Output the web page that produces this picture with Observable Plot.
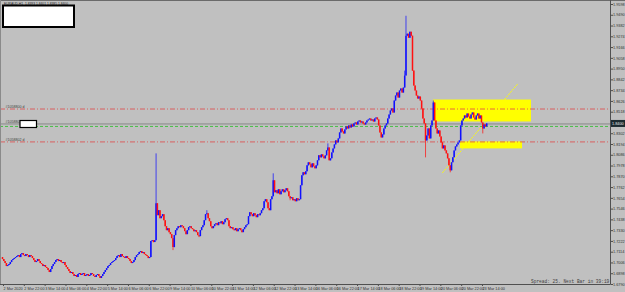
<!DOCTYPE html>
<html><head><meta charset="utf-8">
<script src="https://cdn.jsdelivr.net/npm/d3@7"></script>
<script src="https://cdn.jsdelivr.net/npm/@observablehq/plot@0.6"></script>
<style>
html,body{margin:0;padding:0;background:#c0c0c0;overflow:hidden}
#chart{position:relative;width:625px;height:292px}
svg{display:block}
</style></head><body><div id="chart"></div>
<script>
// EURAUD H1 closes, bar 0 = 2 Mar 2020 06:00 ... bar 372 = 23 Mar 18:00
const closes = [
1.704,1.702,1.700,1.697,1.698,
1.699,1.701,1.703,1.704,1.705,1.706,
1.707,1.708,1.706,1.709,1.710,1.708,1.707,1.709,1.708,1.706,1.708,1.707,1.705,
1.703,1.701,1.702,1.704,1.702,1.700,1.699,1.697,1.698,1.696,
1.695,1.693,1.691,1.694,
1.697,1.699,1.701,1.703,
1.704,1.702,1.703,1.701,1.700,1.701,
1.698,1.696,1.694,1.692,1.690,1.691,1.689,
1.687,1.688,1.686,1.689,1.690,1.688,
1.689,1.690,1.687,1.688,1.689,1.687,1.688,1.690,1.689,1.687,1.686,1.688,1.689,1.687,1.685,
1.687,1.689,1.691,1.693,1.695,1.697,1.698,1.700,1.701,1.702,1.703,1.705,
1.707,1.708,1.706,1.709,1.707,
1.706,1.705,1.707,1.705,1.704,
1.702,1.700,1.701,1.703,
1.706,1.708,1.709,
1.711,1.712,1.710,1.711,
1.709,1.708,1.707,1.705,1.706,
1.722,1.723,1.721,1.723,
1.760,
1.748,1.753,1.745,
1.747,1.749,1.743,
1.737,1.733,1.735,
1.731,1.729,
1.725,1.716,1.728,1.733,
1.735,1.737,1.736,1.738,1.737,1.735,
1.732,1.729,1.733,
1.736,1.737,1.735,
1.734,1.732,1.733,1.731,
1.728,1.727,
1.733,1.736,1.738,
1.743,1.749,1.750,
1.745,1.742,
1.737,1.735,1.737,
1.739,1.740,1.738,
1.741,1.740,1.742,1.739,1.741,
1.744,1.745,1.743,
1.737,1.735,1.736,
1.734,1.733,1.735,1.732,1.734,
1.735,1.733,1.731,1.734,1.736,
1.738,1.739,
1.747,1.751,
1.749,1.747,1.750,1.748,1.746,1.749,1.748,1.750,
1.753,1.755,
1.762,1.764,1.761,
1.755,1.753,
1.764,1.767,
1.783,1.771,
1.773,1.770,1.774,1.769,
1.772,1.774,1.771,1.773,1.775,1.772,
1.767,1.765,1.766,
1.763,1.764,1.762,
1.765,1.763,1.764,
1.778,1.788,1.791,1.789,1.792,
1.798,1.801,1.799,
1.796,1.800,1.797,
1.795,1.798,1.803,
1.808,1.806,1.809,1.807,
1.805,1.808,1.813,1.816,
1.803,1.805,
1.811,1.815,1.819,1.823,1.821,1.825,1.831,1.835,
1.832,1.830,1.834,1.837,1.835,1.838,1.836,
1.839,1.837,1.840,1.841,1.839,1.842,1.843,1.841,
1.842,1.840,1.839,1.841,1.843,1.844,1.845,1.843,
1.844,1.842,1.845,1.846,1.844,
1.838,1.831,1.826,1.829,
1.835,1.838,1.840,
1.845,1.849,1.853,1.855,1.851,
1.863,1.868,1.871,1.866,
1.873,1.875,1.871,1.876,
1.888,1.928,
1.930,1.926,1.932,1.928,
1.893,1.878,1.873,
1.868,1.865,1.867,1.863,
1.855,1.845,1.840,
1.823,
1.828,1.835,1.825,1.838,1.843,
1.861,
1.843,1.835,1.830,1.833,1.827,
1.821,1.815,1.818,1.813,1.810,
1.805,1.798,1.793,1.801,1.806,
1.813,1.817,1.819,1.821,1.823,
1.838,1.843,
1.845,1.848,1.846,1.850,
1.847,1.845,1.849,1.851,1.846,1.844,1.848,1.850,1.845,
1.848,1.841,1.835,1.839,
1.837,1.840
];
const firstOpen = 1.706;
// notable wick extremes [bar, price]
const wickHighs = [[118,1.810],[208,1.790],[310,1.948],[331,1.863],[309,1.893],[250,1.820],[157,1.753]];
const wickLows = [[131,1.713],[325,1.806],[344,1.791],[369,1.830],[221,1.763],[151,1.726]];

const xTickBars = [0,16,32,48,64,80,96,112,128,144,160,176,192,208,224,240,256,272,288,304,320,336,352,368];
const xTickLabels = ["2 Mar 2020","2 Mar 22:00","3 Mar 14:00","4 Mar 06:00","4 Mar 22:00","5 Mar 14:00","6 Mar 06:00","6 Mar 22:00","9 Mar 14:00","10 Mar 06:00","10 Mar 22:00","11 Mar 14:00","12 Mar 06:00","12 Mar 22:00","13 Mar 14:00","16 Mar 06:00","16 Mar 22:00","17 Mar 14:00","18 Mar 06:00","18 Mar 22:00","19 Mar 14:00","20 Mar 06:00","20 Mar 22:00","23 Mar 14:00"];
const yTicks = [1.6790,1.6898,1.7006,1.7114,1.7222,1.7330,1.7438,1.7546,1.7654,1.7762,1.7870,1.7978,1.8086,1.8194,1.8302,1.8410,1.8518,1.8626,1.8734,1.8842,1.8950,1.9058,1.9166,1.9274,1.9382,1.9490,1.9598];

const redLevels = [1.855, 1.822];
const greenLevels = [1.8375];
const levelNames = ["#1058800 d", "#1058801 d", "#1058802 d"];
const levelNamePrices = [1.855, 1.8395, 1.822];

const zones = [
  {x1: 331.1, x2: 406.4, y1: 1.842, y2: 1.864},
  {x1: 351.9, x2: 399.5, y1: 1.815, y2: 1.822}
];
const trendLines = [{x1: 338, y1: 1.791, x2: 395.7, y2: 1.880}];

const headerText = "EURAUD,H1  1.8393 1.8401 1.8385 1.8400";
const statusText = "Spread: 25. Next Bar in 39:19";

// build candles
const hiMap = new Map(wickHighs), loMap = new Map(wickLows);
const bars = closes.map((c, i) => {
  const o = i === 0 ? firstOpen : closes[i - 1];
  const hi = Math.max(o, c, hiMap.get(i) ?? -Infinity);
  const lo = Math.min(o, c, loMap.get(i) ?? Infinity);
  return {i, open: o, close: c, high: hi, low: lo, color: c >= o ? "#1010ff" : "#ff1010"};
});
const lastClose = closes[closes.length - 1];
// the current-price label hides the price tick it covers
const shownYTicks = yTicks.filter(t => Math.abs(t - lastClose) > 0.004);

const W = 625, H = 292, axisX = 610, axisYpx = 284;
const plot = Plot.plot({
  width: W, height: H,
  marginLeft: 0, marginRight: W - axisX, marginTop: 2, marginBottom: H - axisYpx,
  style: {background: "#c0c0c0", fontFamily: "'Liberation Sans', Arial, sans-serif", overflow: "visible"},
  x: {domain: [0, 372], range: [2, 2 + 372 * 1.3016], axis: null},
  y: {domain: [1.6790, 1.9598], range: [284, 4], axis: null},
  color: {type: "identity"},
  marks: [
    Plot.rect(zones, {x1: "x1", x2: "x2", y1: "y1", y2: "y2", fill: "#ffff00"}),
    Plot.link(trendLines, {x1: "x1", y1: "y1", x2: "x2", y2: "y2", stroke: "#ffff00", strokeWidth: 1, strokeDasharray: "2,1"}),
    Plot.ruleY(redLevels, {stroke: "#e04848", strokeWidth: 0.8, strokeDasharray: "5,2,1,2"}),
    Plot.ruleY([lastClose], {stroke: "#7a7a7a", strokeWidth: 0.8}),
    Plot.ruleY(greenLevels, {stroke: "#38c038", strokeWidth: 0.9, strokeDasharray: "3,2"}),
    Plot.ruleX(bars, {x: "i", y1: "low", y2: "high", stroke: "color", strokeWidth: 0.9, strokeOpacity: 0.8}),
    Plot.ruleX(bars, {x: "i", y1: "open", y2: "close", stroke: "color", strokeWidth: 1.5}),
    Plot.text(levelNames, {x: 0, y: (d, i) => levelNamePrices[i], text: d => d, textAnchor: "start", dx: 3, dy: -2.5, fontSize: 3.6, fill: "#404040"}),
    Plot.axisY({anchor: "right", ticks: shownYTicks, tickFormat: d => d.toFixed(4), tickSize: 2, tickPadding: 0.5, fontSize: 3.8, color: "#303030", strokeWidth: 0.8}),
    Plot.axisX({anchor: "bottom", ticks: xTickBars, tickFormat: d => xTickLabels[xTickBars.indexOf(d)], tickSize: 2, tickPadding: 0.5, fontSize: 3.8, textAnchor: "start", dx: 1, color: "#303030", strokeWidth: 0.8})
  ]
});
document.getElementById("chart").appendChild(plot);

// terminal decorations
const svg = d3.select(plot);
const yS = plot.scale("y");
const ov = svg.append("g").attr("text-anchor", "start");
ov.append("line").attr("x1", 0).attr("x2", W).attr("y1", 0.5).attr("y2", 0.5).attr("stroke", "#6a6a6a");
ov.append("line").attr("x1", 0.5).attr("x2", 0.5).attr("y1", 0).attr("y2", axisYpx).attr("stroke", "#8a8a8a");
ov.append("line").attr("x1", axisX + 0.5).attr("x2", axisX + 0.5).attr("y1", 0).attr("y2", axisYpx + 0.5).attr("stroke", "#505050");
ov.append("line").attr("x1", 0).attr("x2", axisX + 0.5).attr("y1", axisYpx + 0.5).attr("y2", axisYpx + 0.5).attr("stroke", "#505050");
// header
ov.append("text").attr("x", 4).attr("y", 4.6).attr("font-size", 3.3).attr("fill", "#202020").text(headerText);
ov.append("rect").attr("x", 3).attr("y", 5.5).attr("width", 71).attr("height", 21.5).attr("fill", "#ffffff").attr("stroke", "#000").attr("stroke-width", 2);
// small white box on level
ov.append("rect").attr("x", 20).attr("y", 120.5).attr("width", 16.5).attr("height", 7).attr("fill", "#ffffff").attr("stroke", "#000").attr("stroke-width", 1.2);
// current price label
const py = yS.apply(lastClose);
ov.append("rect").attr("x", axisX + 1).attr("y", py - 3.5).attr("width", 14).attr("height", 7).attr("fill", "#1c2a30");
ov.append("text").attr("x", axisX + 2).attr("y", py + 1.4).attr("font-size", 3.8).attr("fill", "#e8e8e8").text(lastClose.toFixed(4));
// status line
ov.append("text").attr("x", 531).attr("y", 282.5).attr("font-size", 4.5).attr("font-family", "'Liberation Mono', 'DejaVu Sans Mono', monospace").attr("fill", "#404040").text(statusText);
</script></body></html>
